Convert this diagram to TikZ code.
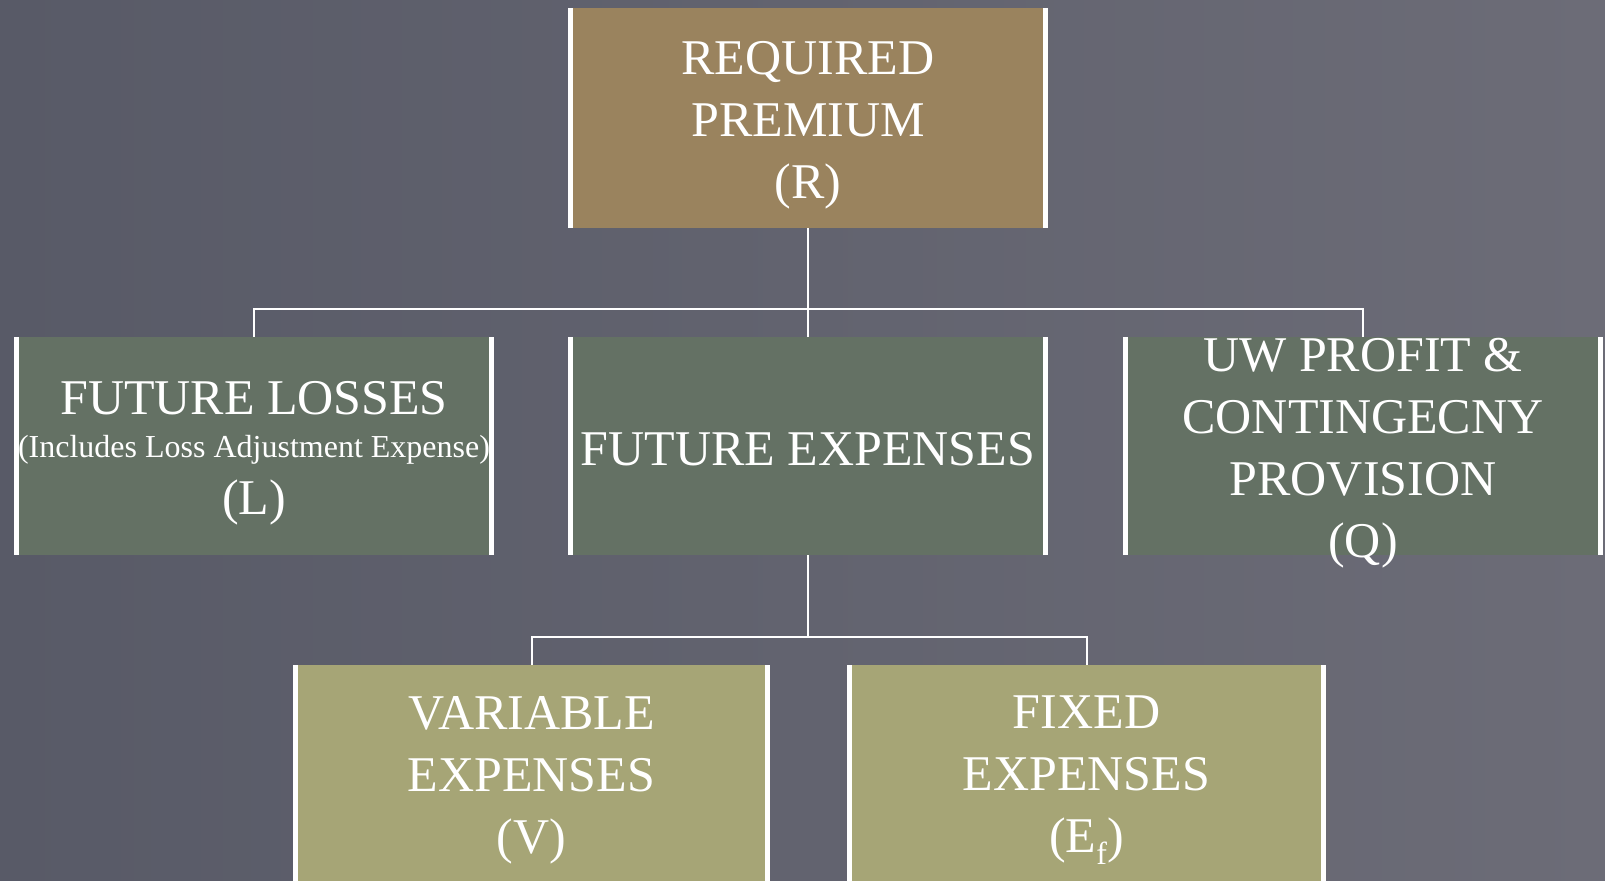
\documentclass[tikz,border=0pt]{standalone}
\usepackage{fontspec}
\setmainfont{Liberation Serif}
\usetikzlibrary{positioning}
\definecolor{slateleft}{RGB}{88,90,103}
\definecolor{slateright}{RGB}{108,108,119}
\definecolor{premtan}{RGB}{154,131,94}
\definecolor{partgreen}{RGB}{100,113,100}
\definecolor{expolive}{RGB}{166,165,118}

\tikzset{
  block/.style={minimum width=240pt, minimum height=109pt, inner sep=0pt, fill=#1,
    path picture={
      \fill[white] (path picture bounding box.south west) rectangle ([xshift=2.5pt]path picture bounding box.north west);
      \fill[white] (path picture bounding box.south east) rectangle ([xshift=-2.5pt]path picture bounding box.north east);
    }},
  lbl/.style={text=white, align=center, yshift=-3.5pt, font=\fontsize{25}{31}\selectfont},
  link/.style={draw=white, line width=1pt}
}
% lowered subscript
\newcommand{\lowsub}[1]{\raisebox{-6pt}{\fontsize{16}{16}\selectfont #1}}

\begin{document}
\begin{tikzpicture}[x=0.5pt, y=-0.5pt]

% page and backdrop
\useasboundingbox (0,0) rectangle (1605,881);
\shade[left color=slateleft, right color=slateright] (0,0) rectangle (1605,881);

% top level
\node[block=premtan, minimum height=110pt,
  label={[lbl]center:{REQUIRED\\PREMIUM\\(R)}}] (prem) at (808,118) {};

% second level
\node[block=partgreen,
  label={[lbl]center:{FUTURE LOSSES\\[-9.5pt]{\fontsize{16}{19}\selectfont(Includes Loss Adjustment Expense)}\\[-2.5pt](L)}}] (loss) at (254,446) {};
\node[block=partgreen,
  label={[lbl, yshift=2pt]center:{FUTURE EXPENSES}}] (fexp) at (808,446) {};
\node[block=partgreen,
  label={[lbl]center:{UW PROFIT \&\\CONTINGECNY\\PROVISION\\(Q)}}] (qprov) at (1363,446) {};

% third level
\node[block=expolive, minimum width=238.5pt, minimum height=108pt,
  label={[lbl]center:{VARIABLE\\EXPENSES\\(V)}}] (vexp) at (531.5,773) {};
\node[block=expolive, minimum width=239.5pt, minimum height=108pt,
  label={[lbl]center:{FIXED\\EXPENSES\\(E\lowsub{f})}}] (fixed) at (1086.5,773) {};

% connectors
\coordinate (bus1) at (808,309);
\coordinate (bus2) at (808,637);
\draw[link] (prem.south) -- (bus1);
\draw[link] (loss.north) |- (bus1) -| (qprov.north);
\draw[link] (bus1) -- (fexp.north);
\draw[link] (fexp.south) -- (bus2);
\draw[link] (vexp.north) |- (bus2) -| (fixed.north);

\end{tikzpicture}
\end{document}
